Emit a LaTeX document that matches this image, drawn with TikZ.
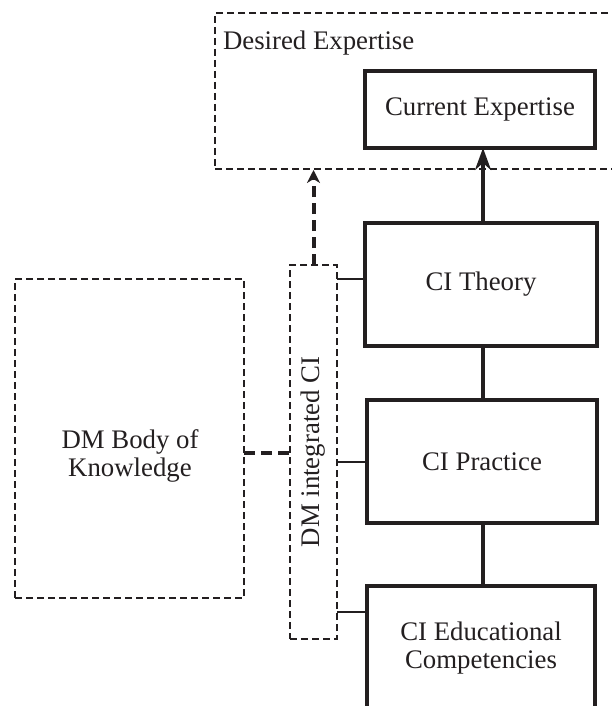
\documentclass[tikz,border=0pt]{standalone}
\usepackage{fontspec}
\setmainfont{Liberation Serif}
\usetikzlibrary{arrows.meta,calc}
\definecolor{ink}{RGB}{35,31,32}
\begin{document}
\begin{tikzpicture}[x=1pt,y=-1pt,
  every node/.style={font=\fontsize{26.8}{28}\selectfont, text=ink, inner sep=0pt, outer sep=0pt, align=center},
  solidbox/.style={draw=ink, line width=3.1pt},
  dashbox/.style={draw=ink, line width=2.4pt, dash pattern=on 7pt off 4pt},
  thickdash/.style={draw=ink, line width=4pt, dash pattern=on 11pt off 6pt},
  thinlink/.style={draw=ink, line width=2.4pt},
  solidlink/.style={draw=ink, line width=3.2pt}]
\clip (0,0) rectangle (612,706);
% boxes
\node[dashbox, minimum width=410, minimum height=156] (desired) at (420,91) {};
\node[anchor=base west] (desiredt) at (223,50) {Desired Expertise};
\node[solidbox, minimum width=230, minimum height=77] (current) at (480,109.5) {Current Expertise};
\node[solidbox, minimum width=232, minimum height=123] (theory) at (481,284.5) {CI Theory};
\node[solidbox, minimum width=230, minimum height=123] (practice) at (482,461.5) {CI Practice};
\node[solidbox, minimum width=228, minimum height=124] (educ) at (481,648) {CI Educational\\Competencies};
\node[dashbox, minimum width=47, minimum height=374] (dmint) at (313.5,452) {};
\node[rotate=90] (dmintt) at (dmint.center) {DM integrated CI};
\node[dashbox, minimum width=229, minimum height=319] (dmbok) at (129.5,438.5) {};
\node (dmbokt) at (130,456) {DM Body of\\Knowledge};
% connectors
\draw[solidlink, -{Stealth[length=22pt,width=16pt,inset=7pt]}] (theory.north -| 483,0) -- (current.south -| 483,0);
\draw[solidlink] (theory.south -| 483,0) -- (practice.north -| 483,0);
\draw[solidlink] (practice.south -| 483,0) -- (educ.north -| 483,0);
\draw[thickdash, -{Stealth[length=13pt,width=13pt,inset=4pt]}] (dmint.north) -- ($(desired.south -| dmint.north)+(0,1)$);
\draw[thinlink] (dmint.east |- 0,279) -- (theory.west |- 0,279);
\draw[thinlink] (dmint.east |- 0,462) -- (practice.west |- 0,462);
\draw[thinlink] (dmint.east |- 0,612) -- (educ.west |- 0,612);
\draw[thickdash] (dmbok.east |- 0,453) -- (dmint.west |- 0,453);
\end{tikzpicture}
\end{document}
